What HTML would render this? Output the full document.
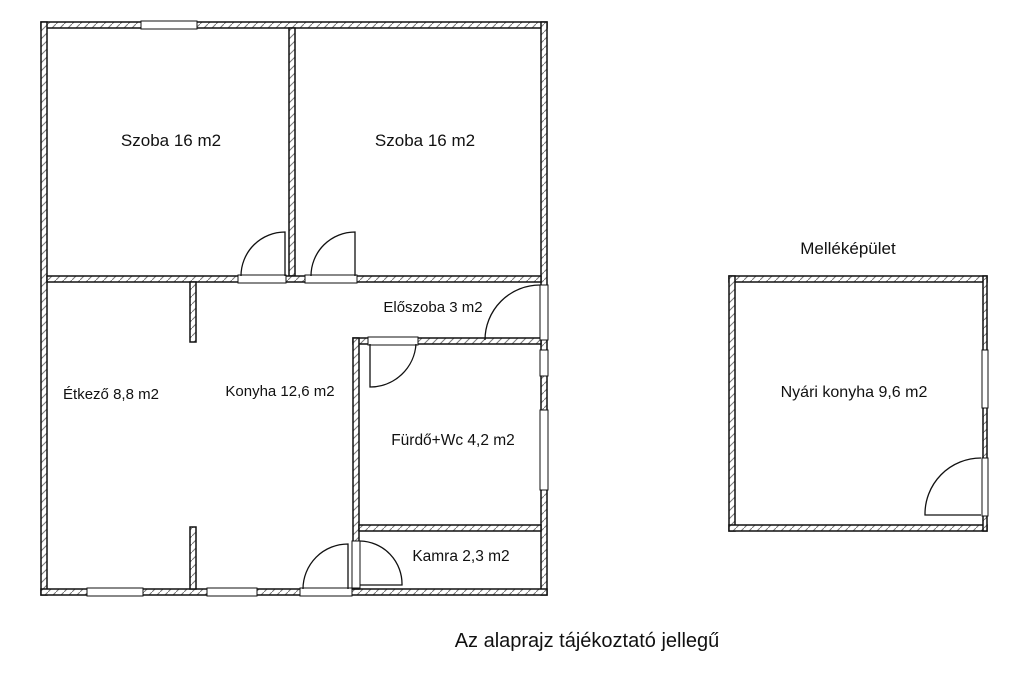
<!DOCTYPE html>
<html><head><meta charset="utf-8"><style>
html,body{margin:0;padding:0;background:#fff;width:1020px;height:676px;overflow:hidden}
text{font-family:"Liberation Sans",Arial,sans-serif;fill:#111}
</style></head><body>
<svg width="1020" height="676" viewBox="0 0 1020 676" xmlns="http://www.w3.org/2000/svg">
<defs>
<pattern id="h" width="8" height="8" patternUnits="userSpaceOnUse">
<rect width="8" height="8" fill="#fff"/>
<line x1="0" y1="8" x2="8" y2="0" stroke="#777" stroke-width="1"/>
</pattern>
</defs>
<g fill="url(#h)" stroke="#111" stroke-width="1.5">
<rect x="41" y="22" width="506" height="6"/>
<rect x="41" y="22" width="6" height="573"/>
<rect x="541" y="22" width="6" height="573"/>
<rect x="41" y="589" width="506" height="6"/>
<rect x="289" y="28" width="6" height="248"/>
<rect x="47" y="276" width="494" height="6"/>
<rect x="190" y="282" width="6" height="60"/>
<rect x="190" y="527" width="6" height="62"/>
<rect x="353" y="338" width="188" height="6"/>
<rect x="353" y="338" width="6" height="251"/>
<rect x="359" y="525" width="182" height="6"/>
<rect x="729" y="276" width="258" height="6"/>
<rect x="729" y="276" width="6" height="255"/>
<rect x="729" y="525" width="258" height="6"/>
<rect x="983" y="276" width="4" height="255"/>
</g>
<g fill="#fff" stroke="#111" stroke-width="1">
<rect x="141" y="21" width="56" height="8"/>
<rect x="238" y="275" width="48" height="8"/>
<rect x="305" y="275" width="52" height="8"/>
<rect x="300" y="588" width="52" height="8"/>
<rect x="87" y="588" width="56" height="8"/>
<rect x="207" y="588" width="50" height="8"/>
<rect x="540" y="285" width="8" height="55"/>
<rect x="540" y="350" width="8" height="26"/>
<rect x="540" y="410" width="8" height="80"/>
<rect x="368" y="337" width="50" height="8"/>
<rect x="352" y="541" width="8" height="47"/>
<rect x="982" y="350" width="6" height="58"/>
<rect x="982" y="458" width="6" height="58"/>
</g>
<g fill="none" stroke="#111" stroke-width="1.3">
<path d="M285 276 V232 A44 44 0 0 0 241 276"/>
<path d="M355 276 V232 A44 44 0 0 0 311 276"/>
<path d="M348 589 V544 A45 45 0 0 0 303 589"/>
<path d="M540 285 A55 55 0 0 0 485 340"/>
<path d="M370 344 V387 A46 46 0 0 0 416 344"/>
<path d="M360 541 A43 43 0 0 1 402 585 H360"/>
<path d="M981 515 H925 A56 56 0 0 1 981 458"/>
</g>
<g text-anchor="middle">
<text x="171" y="146" font-size="17">Szoba 16 m2</text>
<text x="425" y="146" font-size="17">Szoba 16 m2</text>
<text x="848" y="254" font-size="17">Melléképület</text>
<text x="433" y="312" font-size="15">Előszoba 3 m2</text>
<text x="111" y="399" font-size="15">Étkező 8,8 m2</text>
<text x="280" y="396" font-size="15">Konyha 12,6 m2</text>
<text x="453" y="445" font-size="15.5">Fürdő+Wc 4,2 m2</text>
<text x="461" y="561" font-size="15.5">Kamra 2,3 m2</text>
<text x="854" y="397" font-size="16">Nyári konyha 9,6 m2</text>
<text x="587" y="647" font-size="20">Az alaprajz tájékoztató jellegű</text>
</g>
</svg>
</body></html>
